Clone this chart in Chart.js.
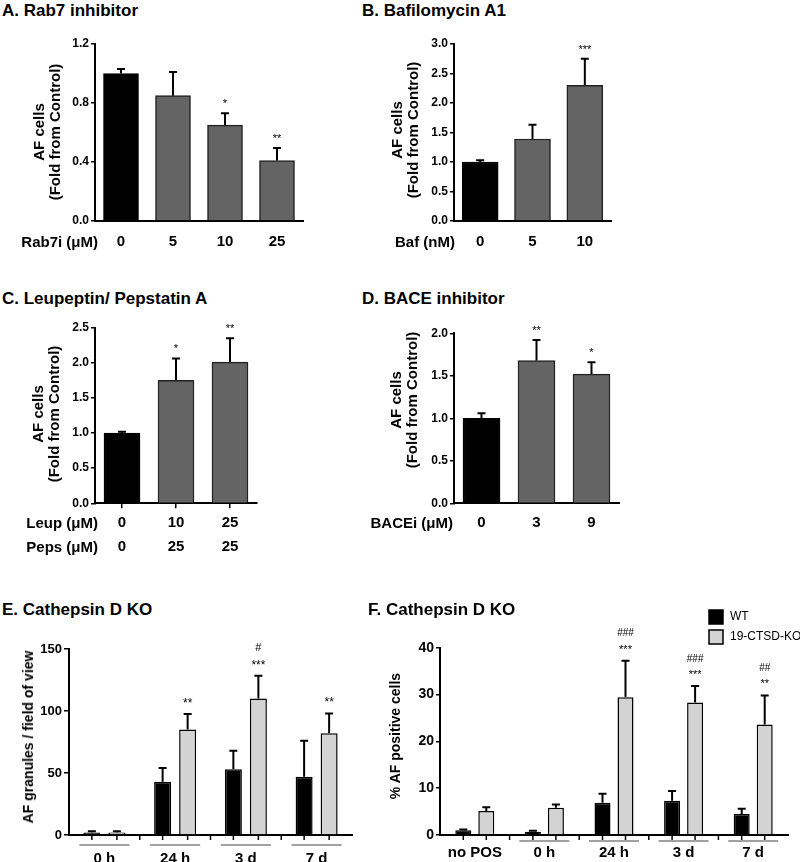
<!DOCTYPE html>
<html>
<head>
<meta charset="utf-8">
<script src="https://cdn.jsdelivr.net/npm/chart.js@4.4.1/dist/chart.umd.min.js"></script>
<style>
  body { margin: 0; background: #fff; }
  #fig { position: relative; width: 800px; height: 862px; overflow: hidden; font-family: "Liberation Sans", Arial, sans-serif; color: #000; }
  #fig canvas { position: absolute; }
  .ttl { position: absolute; font-weight: bold; font-size: 17px; line-height: 17px; white-space: nowrap; }
  .row { position: absolute; font-weight: bold; font-size: 15px; line-height: 20px; height: 20px; white-space: nowrap; text-align: right; }
  .ytl { position: absolute; font-weight: bold; white-space: nowrap; text-align: center; transform: translate(-50%, -50%) rotate(-90deg); }
</style>
</head>
<body>
<div id="fig">
  <div class="ttl" style="left:2px;top:2px">A. Rab7 inhibitor</div>
  <div class="ttl" style="left:362px;top:2px">B. Bafilomycin A1</div>
  <div class="ttl" style="left:2px;top:290px">C. Leupeptin/ Pepstatin A</div>
  <div class="ttl" style="left:362px;top:290px">D. BACE inhibitor</div>
  <div class="ttl" style="left:2px;top:601px">E. Cathepsin D KO</div>
  <div class="ttl" style="left:368px;top:601px">F. Cathepsin D KO</div>

  <div class="ytl" style="left:47px;top:132px;font-size:15px;line-height:16px">AF cells<br>(Fold from Control)</div>
  <div class="ytl" style="left:405px;top:130px;font-size:15px;line-height:16px">AF cells<br>(Fold from Control)</div>
  <div class="ytl" style="left:46px;top:414px;font-size:15px;line-height:16px">AF cells<br>(Fold from Control)</div>
  <div class="ytl" style="left:404px;top:400px;font-size:15px;line-height:16px">AF cells<br>(Fold from Control)</div>
  <div class="ytl" style="left:28px;top:737px;font-size:14px;line-height:16px">AF granules / field of view</div>
  <div class="ytl" style="left:395px;top:736px;font-size:14px;line-height:16px">% AF positive cells</div>

  <div class="row" style="right:702px;top:232px">Rab7i (&mu;M)</div>
  <div class="row" style="right:345px;top:232px">Baf (nM)</div>
  <div class="row" style="right:702px;top:513px">Leup (&mu;M)</div>
  <div class="row" style="right:702px;top:537px">Peps (&mu;M)</div>
  <div class="row" style="right:347px;top:513px">BACEi (&mu;M)</div>
</div>
<script>
// A. Rab7 inhibitor
const rabDose = ["0", "5", "10", "25"];
const rabMean = [1.0, 0.85, 0.65, 0.41];
const rabSem = [0.03, 0.16, 0.08, 0.085];
const rabSig = [[], [], ["*"], ["**"]];
const rabTicks = [0, 0.4, 0.8, 1.2];

// B. Bafilomycin A1
const bafDose = ["0", "5", "10"];
const bafMean = [1.0, 1.39, 2.3];
const bafSem = [0.03, 0.24, 0.45];
const bafSig = [[], [], ["***"]];
const bafTicks = [0, 0.5, 1.0, 1.5, 2.0, 2.5, 3.0];

// C. Leupeptin / Pepstatin A
const leupDose = ["0", "10", "25"];
const pepsDose = ["0", "25", "25"];
const lpMean = [1.0, 1.75, 2.01];
const lpSem = [0.02, 0.31, 0.34];
const lpSig = [[], ["*"], ["**"]];
const lpTicks = [0, 0.5, 1.0, 1.5, 2.0, 2.5];

// D. BACE inhibitor
const baceDose = ["0", "3", "9"];
const baceMean = [1.0, 1.68, 1.52];
const baceSem = [0.06, 0.24, 0.14];
const baceSig = [[], ["**"], ["*"]];
const baceTicks = [0, 0.5, 1.0, 1.5, 2.0];

// E. granules per field
const seriesNames = ["WT", "19-CTSD-KO"];
const granTimes = ["0 h", "24 h", "3 d", "7 d"];
const granWT = [2, 43, 53, 47];
const granWTsem = [1, 11, 15, 29];
const granKO = [2, 85, 110, 82];
const granKOsem = [1, 12.5, 18.5, 16];
const granKOsig = [[], ["**"], ["***", "#"], ["**"]];
const granTicks = [0, 50, 100, 150];

// F. % AF positive cells
const pctTimes = ["no POS", "0 h", "24 h", "3 d", "7 d"];
const pctWT = [1.0, 0.7, 6.9, 7.3, 4.5];
const pctWTsem = [0.2, 0.2, 1.9, 2.1, 1.1];
const pctKO = [5.1, 5.8, 29.4, 28.3, 23.6];
const pctKOsem = [0.8, 0.7, 7.8, 3.5, 6.2];
const pctKOsig = [[], [], ["***", "###"], ["***", "###"], ["**", "##"]];
const pctTicks = [0, 10, 20, 30, 40];

const FONT = '"Liberation Sans", Arial, sans-serif';
const BLACK = "#000";
const DARK = "#646464";
const LIGHT = "#d3d3d3";

// error bars (upper only), significance marks, extra axis decorations
const marksPlugin = {
	id: "marks",
	afterDatasetsDraw(chart, args, o) {
		const ctx = chart.ctx;
		const ys = chart.scales.y;
		const xs = chart.scales.x;
		ctx.save();
		ctx.strokeStyle = BLACK;
		ctx.fillStyle = BLACK;
		chart.data.datasets.forEach((ds, i) => {
			chart.getDatasetMeta(i).data.forEach((bar, j) => {
				const top = ys.getPixelForValue(ds.data[j] + ds.errors[j]);
				ctx.lineWidth = 2;
				ctx.beginPath();
				ctx.moveTo(bar.x, bar.y);
				ctx.lineTo(bar.x, top);
				ctx.moveTo(bar.x - o.cap, top);
				ctx.lineTo(bar.x + o.cap, top);
				ctx.stroke();
				let cy = top - o.gap;
				((ds.sig && ds.sig[j]) || []).forEach((s) => {
					const hash = s[0] === "#";
					const fs = hash ? o.hashSize : o.starSize;
					ctx.font = fs + "px " + FONT;
					ctx.textAlign = "center";
					ctx.textBaseline = "alphabetic";
					ctx.fillText(s, bar.x, cy + fs * (hash ? 0.36 : 0.57));
					cy -= o.step;
				});
				if (o.groupTicks) {
					ctx.lineWidth = 1.5;
					ctx.beginPath();
					ctx.moveTo(bar.x, xs.top);
					ctx.lineTo(bar.x, xs.top + 5);
					ctx.stroke();
				}
			});
		});
		if (o.groupTicks) {
			const n = chart.data.labels.length;
			const half = (xs.getPixelForValue(1) - xs.getPixelForValue(0)) / 2;
			ctx.lineWidth = 1.5;
			for (let i = 1; i < n; i++) {
				const x = xs.getPixelForValue(i) - half;
				ctx.beginPath();
				ctx.moveTo(x, xs.top);
				ctx.lineTo(x, xs.top + 5);
				ctx.stroke();
			}
			ctx.strokeStyle = "#444";
			ctx.lineWidth = 1;
			o.underline.forEach((u, i) => {
				if (!u) return;
				const c = xs.getPixelForValue(i);
				ctx.beginPath();
				ctx.moveTo(c - 25, xs.top + o.ulY);
				ctx.lineTo(c + 25, xs.top + o.ulY);
				ctx.stroke();
			});
		}
		if (o.legend) {
			chart.data.datasets.forEach((ds, i) => {
				const y = o.legend.y + i * 20;
				ctx.fillStyle = ds.backgroundColor;
				ctx.fillRect(o.legend.x, y, 14, 14);
				ctx.strokeStyle = BLACK;
				ctx.lineWidth = 1.5;
				ctx.strokeRect(o.legend.x, y, 14, 14);
				ctx.fillStyle = BLACK;
				ctx.font = "12px " + FONT;
				ctx.textAlign = "left";
				ctx.textBaseline = "middle";
				ctx.fillText(ds.label, o.legend.x + 21, y + 7);
			});
		}
		ctx.restore();
	},
};

const fig = document.getElementById("fig");

function panel(box, area, cfg) {
	const cv = document.createElement("canvas");
	cv.width = box.w;
	cv.height = box.h;
	cv.style.left = box.x + "px";
	cv.style.top = box.y + "px";
	fig.insertBefore(cv, fig.firstChild);
	const yW = area.l - box.x;
	const xH = box.y + box.h - area.b;
	const ticks = cfg.yTicks;
	return new Chart(cv, {
		type: "bar",
		data: { labels: cfg.labels, datasets: cfg.datasets },
		options: {
			responsive: false,
			animation: false,
			layout: { padding: { left: 0, bottom: 0, top: area.t - box.y, right: box.x + box.w - area.r } },
			categoryPercentage: cfg.catPct || 0.8,
			barPercentage: cfg.barPct || 0.9,
			plugins: { legend: { display: false }, tooltip: { enabled: false }, marks: cfg.marks },
			scales: {
				x: {
					z: 1,
					grid: cfg.xGrid || { display: false, drawTicks: false },
					border: { color: BLACK, width: 2 },
					ticks: {
						color: BLACK,
						padding: cfg.xPad,
						maxRotation: 0,
						autoSkip: false,
						font: { family: FONT, size: 15, weight: "bold", lineHeight: cfg.xLine || 1.2 },
					},
					afterFit: (s) => { s.height = xH; },
				},
				y: {
					min: ticks[0],
					max: ticks[ticks.length - 1],
					grid: { display: true, drawOnChartArea: false, drawTicks: true, tickLength: cfg.tickLen || 4, color: BLACK, lineWidth: 1.5 },
					border: { color: BLACK, width: 2 },
					ticks: {
						stepSize: ticks[1] - ticks[0],
						padding: 2,
						color: BLACK,
						font: { family: FONT, size: cfg.ySize || 12, weight: "bold" },
						callback: (v) => (cfg.yDec ? v.toFixed(cfg.yDec) : v),
					},
					afterFit: (s) => { s.width = yW; },
				},
			},
		},
		plugins: [marksPlugin],
	});
}

function singleSet(mean, sem, sig, thick) {
	return [{
		data: mean,
		errors: sem,
		sig: sig,
		barThickness: thick,
		backgroundColor: mean.map((v, i) => (i === 0 ? BLACK : DARK)),
		borderColor: mean.map((v, i) => (i === 0 ? BLACK : "#222")),
		borderWidth: 1.5,
	}];
}

const smallMarks = { cap: 4, gap: 12.5, step: 14, starSize: 11, hashSize: 10 };

// A
panel({ x: 50, y: 30, w: 270, h: 240 }, { l: 95, t: 44, r: 303, b: 221 }, {
	labels: rabDose,
	datasets: singleSet(rabMean, rabSem, rabSig, 35),
	yTicks: rabTicks, yDec: 1, xPad: 12, marks: smallMarks,
});
// B
panel({ x: 420, y: 30, w: 210, h: 240 }, { l: 454, t: 44, r: 611, b: 221 }, {
	labels: bafDose,
	datasets: singleSet(bafMean, bafSem, bafSig, 36),
	yTicks: bafTicks, yDec: 1, xPad: 12, marks: smallMarks,
});
// C
panel({ x: 50, y: 310, w: 230, h: 250 }, { l: 95, t: 327.7, r: 257, b: 503.3 }, {
	labels: leupDose.map((d, i) => [d, pepsDose[i]]),
	datasets: singleSet(lpMean, lpSem, lpSig, 36),
	yTicks: lpTicks, yDec: 1, xPad: 3, xLine: 1.6,
	xGrid: { display: true, drawOnChartArea: false, drawTicks: true, tickLength: 5, offset: false, color: BLACK, lineWidth: 1.5 },
	marks: smallMarks,
});
// D
panel({ x: 420, y: 310, w: 220, h: 230 }, { l: 454, t: 333.3, r: 619, b: 503.3 }, {
	labels: baceDose,
	datasets: singleSet(baceMean, baceSem, baceSig, 37),
	yTicks: baceTicks, yDec: 1, xPad: 10.7, marks: smallMarks,
});

function pairSets(wt, wtSem, ko, koSem, koSig) {
	return [
		{ label: seriesNames[0], data: wt, errors: wtSem, backgroundColor: BLACK, borderColor: BLACK, borderWidth: 1.5 },
		{ label: seriesNames[1], data: ko, errors: koSem, sig: koSig, backgroundColor: LIGHT, borderColor: BLACK, borderWidth: 1.5 },
	];
}

// E
panel({ x: 20, y: 630, w: 350, h: 232 }, { l: 69, t: 649, r: 352, b: 835 }, {
	labels: granTimes,
	datasets: pairSets(granWT, granWTsem, granKO, granKOsem, granKOsig),
	catPct: 0.707, barPct: 0.68,
	yTicks: granTicks, ySize: 13, tickLen: 5, xPad: 15,
	marks: { cap: 4, gap: 14, step: 15, starSize: 12, hashSize: 11, groupTicks: true, underline: [1, 1, 1, 1], ulY: 10 },
});
// F
panel({ x: 405, y: 600, w: 395, h: 262 }, { l: 440, t: 647.7, r: 788, b: 835 }, {
	labels: pctTimes,
	datasets: pairSets(pctWT, pctWTsem, pctKO, pctKOsem, pctKOsig),
	catPct: 0.661, barPct: 0.696,
	yTicks: pctTicks, ySize: 14, tickLen: 4, xPad: 9,
	marks: { cap: 4, gap: 14.5, step: 13.5, starSize: 11, hashSize: 10, groupTicks: true, underline: [0, 1, 1, 1, 1], ulY: 6, legend: { x: 304, y: 10 } },
});
</script>
</body>
</html>
